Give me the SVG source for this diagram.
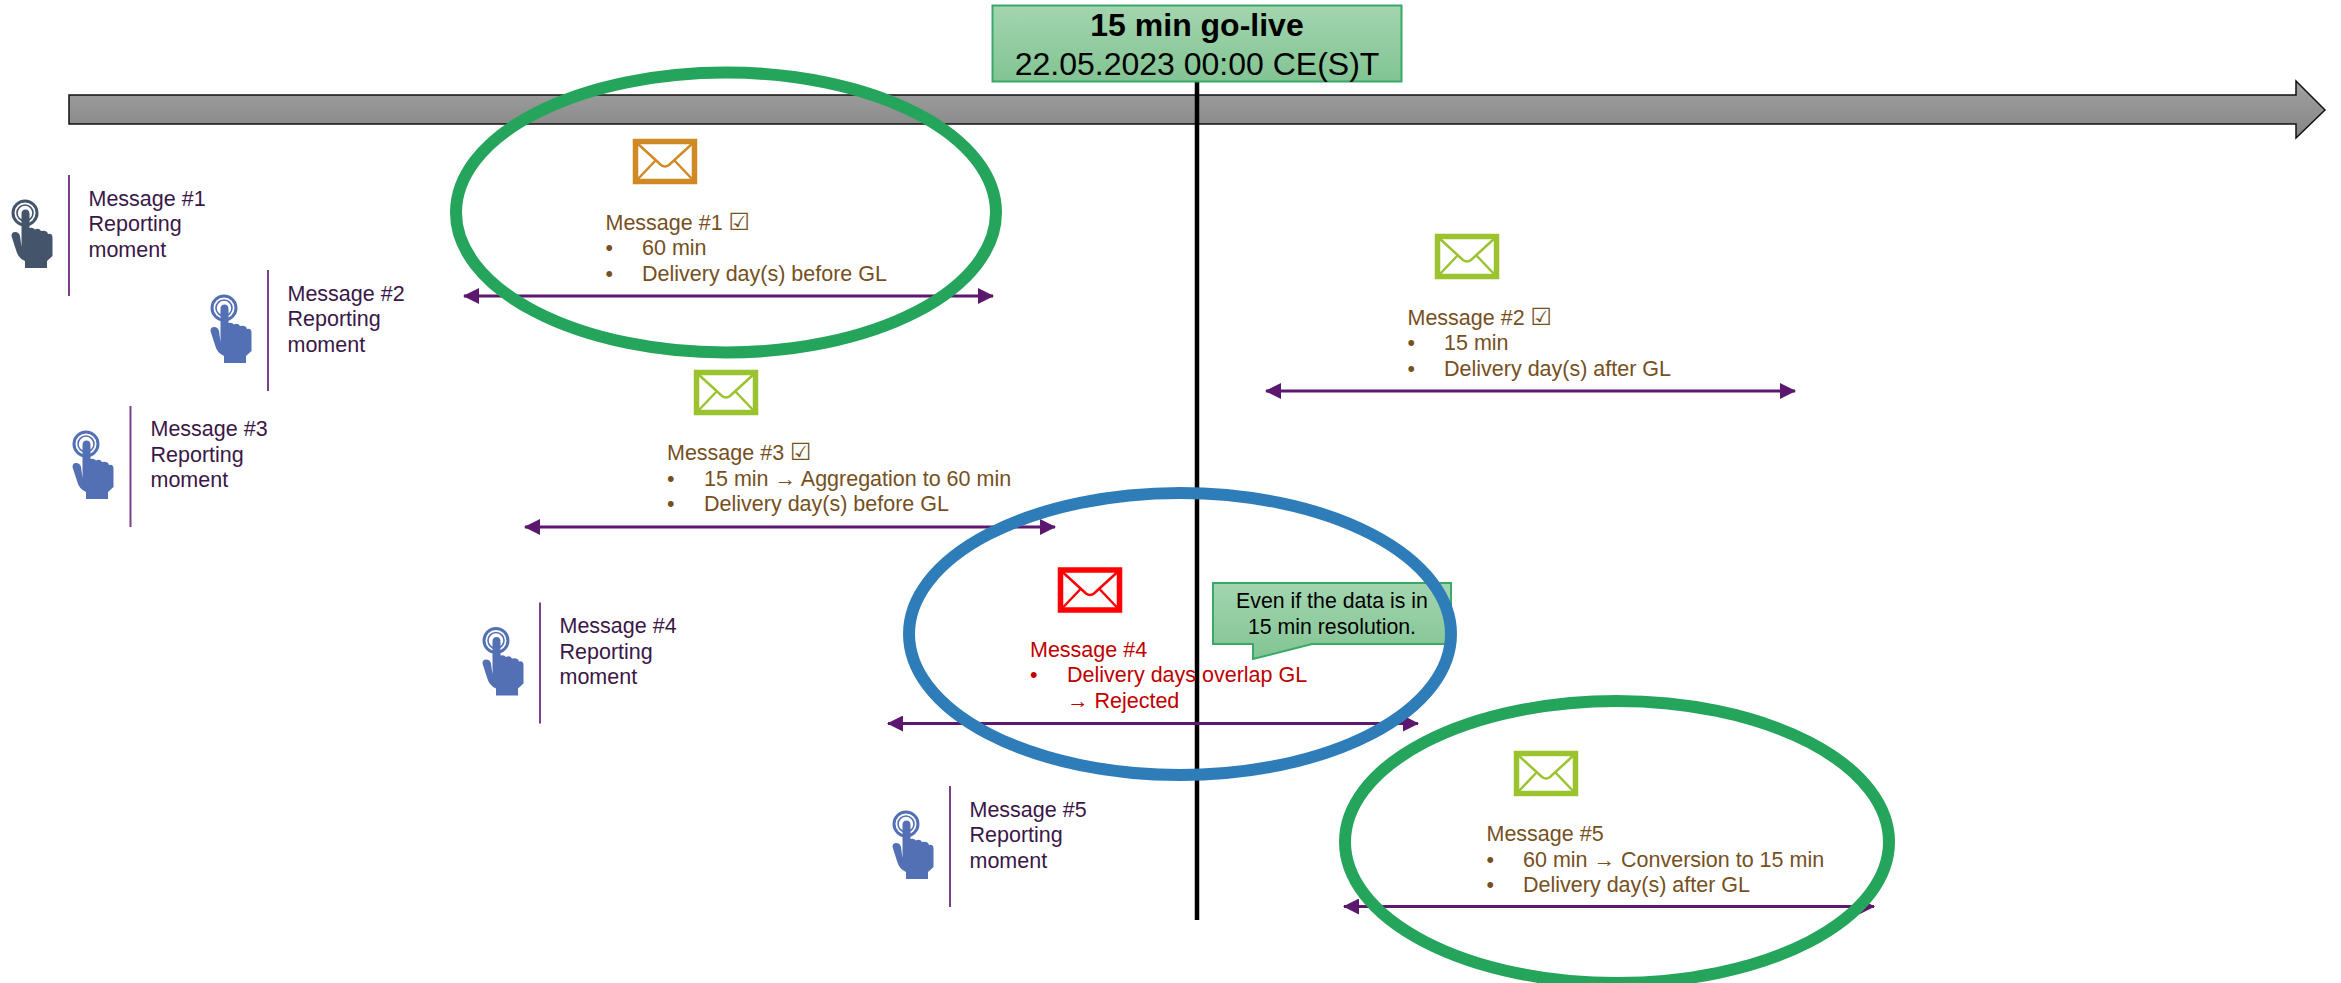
<svg xmlns="http://www.w3.org/2000/svg" width="2341" height="983" viewBox="0 0 2341 983">
<style>
text{font-family:"Liberation Sans","DejaVu Sans",sans-serif}
.rm{font-size:21.500px;fill:#3a1748}
.ok{font-size:21.500px;fill:#76501e}
.bad{font-size:21.500px;fill:#c00000}
.chk{font-size:24px;font-family:"DejaVu Sans",sans-serif}
.rule{stroke:#7d3f8c;stroke-width:2;fill:none}
.span{stroke:#5c176f;stroke-width:3;fill:none;marker-start:url(#a);marker-end:url(#a)}
.ring{fill:none;stroke-width:12}
.note{fill:url(#g);stroke:#3aa868;stroke-width:2}
.c{text-anchor:middle;fill:#000}
</style>
<defs>
<linearGradient id="bar" x1="0" y1="0" x2="0" y2="1"><stop offset="0" stop-color="#a2a2a2"/><stop offset="1" stop-color="#848484"/></linearGradient>
<linearGradient id="g" x1="0" y1="0" x2="0" y2="1"><stop offset="0" stop-color="#a3d5af"/><stop offset="1" stop-color="#82c493"/></linearGradient>
<marker id="a" viewBox="0 0 16 16" refX="15" refY="8" markerWidth="16" markerHeight="16" markerUnits="userSpaceOnUse" orient="auto-start-reverse"><path d="M0 0L16 8L0 16z" fill="#5c176f"/></marker>
<g id="env" fill="none">
<rect x="2.500" y="2.500" width="59" height="40" stroke-width="5.500"/>
<path d="M4 4L28 26Q32 29 36 26L60 4M4 41L23 21M60 41L41 21" stroke-width="2.500"/>
</g>
<g id="hand">
<circle cx="25" cy="213" r="12" fill="none" stroke-width="3"/>
<circle cx="25" cy="213" r="8" fill="none" stroke-width="1.600"/>
<path stroke="none" d="M21.500 214Q21.500 209.500 25.500 209.500Q29.500 209.500 29.500 214L29.500 228Q33 227 35 229.500Q39 227.500 41 231Q47 230 48 234Q52.500 233 52.500 238L52.500 256L47 261L47 268L25 268L25 261Q18 258 16 250L11.500 236Q11.500 232 15 232Q19 232 20 236L21.500 247z"/>
</g>
</defs>

<g id="timeline">
<path d="M69 95H2296V81L2325 110L2296 138V124H69z" fill="url(#bar)" stroke="#111" stroke-width="1.500"/>
</g>
<g id="go-live-line"><path d="M1197 82V920" stroke="#000" stroke-width="4.500" fill="none"/></g>
<g id="go-live">
<rect x="992.500" y="5.500" width="409" height="76" fill="url(#g)" stroke="#3aa868" stroke-width="2"/>
<text class="c" x="1197" y="36" font-size="32" font-weight="bold">15 min go-live</text>
<text class="c" x="1197" y="75" font-size="32">22.05.2023 00:00 CE(S)T</text>
</g>

<g id="moment-1">
<use href="#hand" fill="#44546a" stroke="#44546a"/>
<path class="rule" d="M69 175V296"/>
<text class="rm"><tspan x="88.500" y="205.500">Message #1</tspan><tspan x="88.500" y="231">Reporting</tspan><tspan x="88.500" y="256.500">moment</tspan></text>
</g>
<g id="moment-2" transform="translate(199 95)">
<use href="#hand" fill="#5470b4" stroke="#5470b4"/>
<path class="rule" d="M69 175V296"/>
<text class="rm"><tspan x="88.500" y="205.500">Message #2</tspan><tspan x="88.500" y="231">Reporting</tspan><tspan x="88.500" y="256.500">moment</tspan></text>
</g>
<g id="moment-3" transform="translate(61 231)">
<use href="#hand" fill="#5470b4" stroke="#5470b4"/>
<path class="rule" d="M69.500 175V296"/>
<text class="rm"><tspan x="89.500" y="205">Message #3</tspan><tspan x="89.500" y="230.500">Reporting</tspan><tspan x="89.500" y="256">moment</tspan></text>
</g>
<g id="moment-4" transform="translate(471 427.500)">
<use href="#hand" fill="#5470b4" stroke="#5470b4"/>
<path class="rule" d="M69 175V296"/>
<text class="rm"><tspan x="88.500" y="205.500">Message #4</tspan><tspan x="88.500" y="231">Reporting</tspan><tspan x="88.500" y="256.500">moment</tspan></text>
</g>
<g id="moment-5" transform="translate(881 611)">
<use href="#hand" fill="#5470b4" stroke="#5470b4"/>
<path class="rule" d="M69 175V296"/>
<text class="rm"><tspan x="88.500" y="205.500">Message #5</tspan><tspan x="88.500" y="231">Reporting</tspan><tspan x="88.500" y="256.500">moment</tspan></text>
</g>

<g id="message-1">
<use href="#env" x="633" y="139" stroke="#cf8a26"/>
<text class="ok"><tspan x="605.500" y="230">Message #1 <tspan class="chk">☑</tspan></tspan><tspan x="605.500" y="255">•</tspan><tspan x="642" y="255">60 min</tspan><tspan x="605.500" y="280.500">•</tspan><tspan x="642" y="280.500">Delivery day(s) before GL</tspan></text>
</g>
<g id="message-2">
<use href="#env" x="1435" y="234" stroke="#9bc32f"/>
<text class="ok"><tspan x="1407.500" y="325">Message #2 <tspan class="chk">☑</tspan></tspan><tspan x="1407.500" y="350">•</tspan><tspan x="1444" y="350">15 min</tspan><tspan x="1407.500" y="375.500">•</tspan><tspan x="1444" y="375.500">Delivery day(s) after GL</tspan></text>
</g>
<g id="message-3">
<use href="#env" x="694" y="370" stroke="#9bc32f"/>
<text class="ok"><tspan x="667" y="460">Message #3 <tspan class="chk">☑</tspan></tspan><tspan x="667" y="485.500">•</tspan><tspan x="704" y="485.500">15 min → Aggregation to 60 min</tspan><tspan x="667" y="511">•</tspan><tspan x="704" y="511">Delivery day(s) before GL</tspan></text>
</g>
<g id="message-4">
<use href="#env" x="1058" y="567.500" stroke="#ff0000"/>
<text class="bad"><tspan x="1030" y="657">Message #4</tspan><tspan x="1030" y="682">•</tspan><tspan x="1067" y="682">Delivery days overlap GL</tspan><tspan x="1067" y="707.500">→ Rejected</tspan></text>
</g>
<g id="message-5">
<use href="#env" x="1514" y="751" stroke="#9bc32f"/>
<text class="ok"><tspan x="1486.500" y="841">Message #5</tspan><tspan x="1486.500" y="866.500">•</tspan><tspan x="1523" y="866.500">60 min → Conversion to 15 min</tspan><tspan x="1486.500" y="892">•</tspan><tspan x="1523" y="892">Delivery day(s) after GL</tspan></text>
</g>

<g id="connectors">
<path class="span" d="M464 296H993"/>
<path class="span" d="M1266 391H1795"/>
<path class="span" d="M525 527H1055"/>
<path class="span" d="M888 723.500H1418"/>
<path class="span" d="M1344 906.500H1874"/>
</g>

<g id="note">
<path class="note" d="M1213 583H1451V644H1312L1253 659V644H1213z"/>
<text class="c" font-size="21.300"><tspan x="1332" y="608">Even if the data is in</tspan><tspan x="1332" y="634">15 min resolution.</tspan></text>
</g>

<g id="highlights">
<ellipse class="ring" cx="726" cy="212.500" rx="270" ry="140" stroke="#25a55c"/>
<ellipse class="ring" cx="1180" cy="634" rx="271" ry="141" stroke="#2e7db8"/>
<ellipse class="ring" cx="1617" cy="842" rx="272" ry="141" stroke="#25a55c"/>
</g>
</svg>
